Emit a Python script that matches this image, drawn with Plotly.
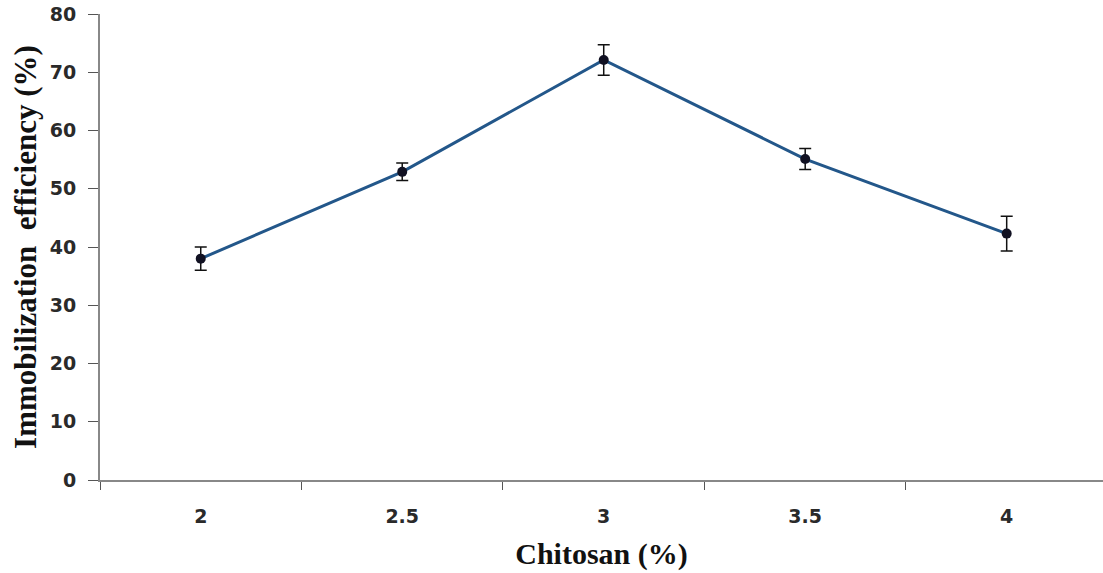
import plotly.graph_objects as go

chitosan = ["2", "2.5", "3", "3.5", "4"]
efficiency = [38.0, 52.9, 72.1, 55.1, 42.3]
errors = [2.0, 1.5, 2.6, 1.8, 3.0]
y_ticks = [0, 10, 20, 30, 40, 50, 60, 70, 80]

fig = go.Figure()
fig.add_trace(go.Scatter(
    x=chitosan, y=efficiency,
    mode="lines+markers",
    line=dict(color="#23578A", width=3),
    marker=dict(color="#111122", size=10),
    error_y=dict(type="data", array=errors, color="#111111", thickness=1.5, width=6),
    showlegend=False,
))

fig.update_layout(
    width=1103, height=573,
    margin=dict(l=100, r=0, t=14, b=93),
    paper_bgcolor="white", plot_bgcolor="white",
    xaxis=dict(
        type="category",
        automargin=False,
        range=[-0.5, 4.478],
        tickson="boundaries",
        ticks="outside", ticklen=8, tickcolor="#555555", tickwidth=1.2,
        ticklabelstandoff=18,
        showline=True, linecolor="#888888", linewidth=2,
        showgrid=False, zeroline=False,
        tickfont=dict(family="DejaVu Sans", size=19, color="#2a2a2a", weight="bold"),
        title=dict(text="Chitosan (%)", standoff=17,
                   font=dict(family="Liberation Serif", size=30, color="#111111", weight="bold")),
    ),
    yaxis=dict(
        automargin=False,
        range=[0, 80],
        tickvals=y_ticks,
        ticks="outside", ticklen=10, tickcolor="#555555", tickwidth=1.2,
        ticklabelstandoff=8,
        showline=True, linecolor="#888888", linewidth=2,
        showgrid=False, zeroline=False,
        tickfont=dict(family="DejaVu Sans", size=19, color="#2a2a2a", weight="bold"),
        title=dict(text="Immobilization\u00a0\u00a0efficiency (%)", standoff=4,
                   font=dict(family="Liberation Serif", size=31, color="#111111", weight="bold")),
    ),
)

fig.write_html(
    "out.html",
    config={"displayModeBar": False},
    post_script="document.body.style.margin='0px';document.body.style.overflow='hidden';",
)
